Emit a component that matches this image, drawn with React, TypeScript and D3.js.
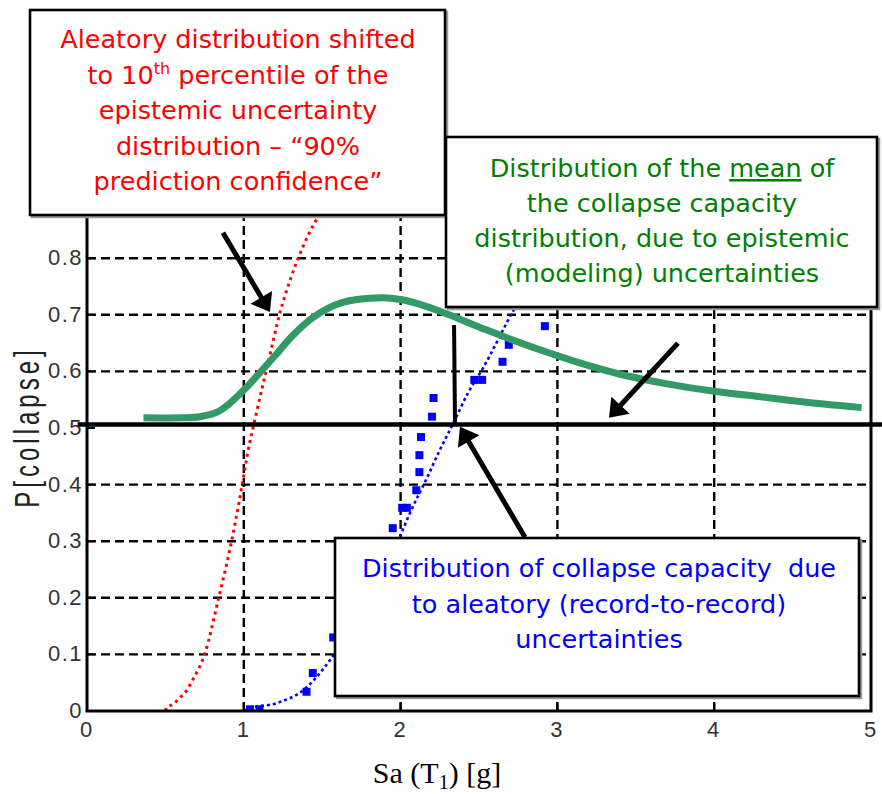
import React from 'react';
import * as d3 from 'd3';

// ---- axis ticks ----
const xTicks = [0, 1, 2, 3, 4, 5];
const xTickLabels = ['0', '1', '2', '3', '4', '5'];
const yTicks = [0, 0.1, 0.2, 0.3, 0.4, 0.5, 0.6, 0.7, 0.8];
const yTickLabels = ['0', '0.1', '0.2', '0.3', '0.4', '0.5', '0.6', '0.7', '0.8'];
const xGrid = [1, 2, 3, 4];
const yGrid = [0.1, 0.2, 0.3, 0.4, 0.6, 0.7, 0.8, 0.9];

// ---- green: distribution of the mean (epistemic) ----
const greenX = [0.36, 0.6, 0.72, 0.83, 0.9, 1.0, 1.1, 1.2, 1.3, 1.44, 1.62, 1.88, 2.0, 2.13, 2.3, 2.55, 2.87, 3.19, 3.4, 3.7, 4.0, 4.3, 4.6, 4.94];
const greenY = [0.518, 0.518, 0.52, 0.528, 0.541, 0.567, 0.597, 0.628, 0.66, 0.695, 0.721, 0.73, 0.727, 0.718, 0.701, 0.673, 0.64, 0.611, 0.595, 0.578, 0.565, 0.555, 0.545, 0.536];

// ---- red dotted: aleatory shifted to 10th percentile ----
const redX = [0.5, 0.51, 0.55, 0.59, 0.63, 0.67, 0.75, 0.84, 0.91, 0.99, 1.02, 1.085, 1.17, 1.23, 1.3, 1.36, 1.47, 1.55];
const redY = [0.0, 0.007, 0.012, 0.023, 0.034, 0.053, 0.1, 0.2, 0.284, 0.4, 0.449, 0.532, 0.633, 0.703, 0.765, 0.809, 0.871, 0.9];

// ---- blue dotted fitted aleatory CDF ----
const blueLineX = [1.0, 1.03, 1.21, 1.38, 1.55, 1.75, 2.0, 2.06, 2.17, 2.25, 2.33, 2.43, 2.53, 2.62, 2.71, 2.85];
const blueLineY = [0.0, 0.004, 0.014, 0.037, 0.09, 0.18, 0.311, 0.35, 0.413, 0.461, 0.505, 0.562, 0.608, 0.655, 0.703, 0.76];

// ---- blue squares: record-to-record collapse data ----
const blueSqX = [1.04, 1.1, 1.4, 1.44, 1.57, 1.95, 2.01, 2.04, 2.1, 2.12, 2.12, 2.13, 2.2, 2.21, 2.47, 2.52, 2.65, 2.69, 2.92, 3.04];
const blueSqY = [0.003, 0.003, 0.034, 0.067, 0.13, 0.323, 0.359, 0.359, 0.39, 0.422, 0.452, 0.484, 0.52, 0.553, 0.585, 0.585, 0.617, 0.647, 0.68, 0.717];

// ---- annotation arrows (data units) ----
const arrowStartX = [0.867, 3.769, 2.793];
const arrowStartY = [0.845, 0.65, 0.307];
const arrowTipX = [1.167, 3.329, 2.379];
const arrowTipY = [0.705, 0.518, 0.502];
const refLineY = 0.506;
const markerLineX = [2.341, 2.347];
const markerLineY = [0.682, 0.507];

const W = 882;
const H = 794;

function Arrow({ x1, y1, x2, y2 }: { x1: number; y1: number; x2: number; y2: number }) {
  const dx = x2 - x1;
  const dy = y2 - y1;
  const len = Math.sqrt(dx * dx + dy * dy);
  const ux = dx / len;
  const uy = dy / len;
  const L = 17;
  const hw = 12.5;
  const bx = x2 - ux * L;
  const by = y2 - uy * L;
  const pts = [
    [x2, y2],
    [bx - uy * hw, by + ux * hw],
    [bx + uy * hw, by - ux * hw],
  ];
  return (
    <g>
      <line x1={x1} y1={y1} x2={bx + ux * 3} y2={by + uy * 3} stroke="#000" strokeWidth={5} />
      <polygon points={pts.map((p) => p.join(',')).join(' ')} fill="#000" />
    </g>
  );
}

function Box({ x, y, w, h }: { x: number; y: number; w: number; h: number }) {
  return (
    <g>
      <rect x={x + 2} y={y + 2} width={w} height={h} fill="none" stroke="#9a9a9a" strokeWidth={2.5} />
      <rect x={x} y={y} width={w} height={h} fill="#fff" stroke="#000" strokeWidth={2.6} />
    </g>
  );
}

export default function App() {
  const x = d3.scaleLinear().domain([0, 5]).range([87, 871]);
  const y = d3.scaleLinear().domain([0, 1]).range([711, 145]);

  const line = d3
    .line<[number, number]>()
    .x((d) => x(d[0]))
    .y((d) => y(d[1]))
    .curve(d3.curveMonotoneX);
  const smooth = d3
    .line<[number, number]>()
    .x((d) => x(d[0]))
    .y((d) => y(d[1]))
    .curve(d3.curveCatmullRom.alpha(0.5));

  const greenPath = smooth(greenX.map((v, i) => [v, greenY[i]]) as [number, number][]) || '';
  const redPath = line(redX.map((v, i) => [v, redY[i]]) as [number, number][]) || '';
  const bluePath = line(blueLineX.map((v, i) => [v, blueLineY[i]]) as [number, number][]) || '';

  const boxFont = "'DejaVu Sans', Verdana, sans-serif";
  const tickFont = "'Liberation Sans', Arial, sans-serif";
  const sq = 8;

  return (
    <svg
      width={W}
      height={H}
      viewBox={`0 0 ${W} ${H}`}
      style={{ position: 'absolute', left: 0, top: 0, background: '#fff' }}
    >
      <defs>
        <clipPath id="plotClip">
          <rect x={x(0)} y={y(1)} width={x(5) - x(0)} height={y(0) - y(1)} />
        </clipPath>
      </defs>
      <rect x={0} y={0} width={W} height={H} fill="#fff" />

      {/* grid */}
      {xGrid.map((t) => (
        <line key={'gx' + t} x1={x(t)} x2={x(t)} y1={y(0)} y2={y(1)} stroke="#000" strokeWidth={2.4} strokeDasharray="9,5" />
      ))}
      {yGrid.map((t) => (
        <line key={'gy' + t} x1={x(0)} x2={x(5)} y1={y(t)} y2={y(t)} stroke="#000" strokeWidth={2.4} strokeDasharray="9,5" />
      ))}

      {/* curves */}
      <g clipPath="url(#plotClip)">
        <path d={redPath} fill="none" stroke="#ff0000" strokeWidth={3} strokeDasharray="3,4" />
        <path d={bluePath} fill="none" stroke="#0000ff" strokeWidth={2.6} strokeDasharray="3,3" />
        {blueSqX.map((v, i) => (
          <rect key={'sq' + i} x={x(v) - sq / 2} y={y(blueSqY[i]) - sq / 2} width={sq} height={sq} fill="#0000ff" />
        ))}
        <path d={greenPath} fill="none" stroke="#339966" strokeWidth={7} strokeLinecap="butt" />
      </g>

      {/* axes frame */}
      <rect x={x(0)} y={y(1)} width={x(5) - x(0)} height={y(0) - y(1)} fill="none" stroke="#000" strokeWidth={3} />
      {xTicks.map((t) => (
        <line key={'tx' + t} x1={x(t)} x2={x(t)} y1={y(0)} y2={y(0) - 8} stroke="#000" strokeWidth={2} />
      ))}
      {yTicks.map((t) => (
        <line key={'ty' + t} x1={x(0)} x2={x(0) + 8} y1={y(t)} y2={y(t)} stroke="#000" strokeWidth={2} />
      ))}

      {/* reference line at 0.5 and marker line */}
      <line x1={x(-0.06)} x2={x(5.07)} y1={y(refLineY)} y2={y(refLineY)} stroke="#000" strokeWidth={4.5} />
      <line x1={x(markerLineX[0])} x2={x(markerLineX[1])} y1={y(markerLineY[0])} y2={y(markerLineY[1])} stroke="#000" strokeWidth={4} />

      {/* arrows */}
      {arrowStartX.map((v, i) => (
        <Arrow key={'ar' + i} x1={x(v)} y1={y(arrowStartY[i])} x2={x(arrowTipX[i])} y2={y(arrowTipY[i])} />
      ))}

      {/* tick labels */}
      {yTicks.map((t, i) => (
        <text key={'yl' + t} x={83} y={y(t) + 7} textAnchor="end" fontFamily={tickFont} fontSize={22} letterSpacing={1.5} fill="#333">
          {yTickLabels[i]}
        </text>
      ))}
      {xTicks.map((t, i) => (
        <text key={'xl' + t} x={x(t) - 1} y={737} textAnchor="middle" fontFamily={tickFont} fontSize={22} fill="#333">
          {xTickLabels[i]}
        </text>
      ))}

      {/* axis labels */}
      <g transform="translate(39,427) rotate(-90) scale(1,1.45)">
        <text x={0} y={0} textAnchor="middle" fontFamily={tickFont} fontSize={24} letterSpacing={4} fill="#222">
          P[collapse]
        </text>
      </g>
      <text x={437} y={783} textAnchor="middle" fontFamily="'Liberation Serif', 'Times New Roman', serif" fontSize={30} fill="#000">
        Sa (T<tspan fontSize={20} dy={6}>1</tspan>
        <tspan dy={-6}>) [g]</tspan>
      </text>

      {/* red annotation box */}
      <Box x={30} y={10} w={415} h={205} />
      <g fontFamily={boxFont} fontSize={25.5} fill="#ff0000" textAnchor="middle">
        <text x={238} y={48}>Aleatory distribution shifted</text>
        <text x={238} y={83.5}>
          to 10<tspan fontSize={16} dy={-10}>th</tspan>
          <tspan dy={10}>{'\u00a0percentile of the'}</tspan>
        </text>
        <text x={238} y={119}>epistemic uncertainty</text>
        <text x={238} y={154.5}>distribution – “90%</text>
        <text x={238} y={190}>prediction confidence”</text>
      </g>

      {/* green annotation box */}
      <Box x={446} y={137} w={431} h={170} />
      <g fontFamily={boxFont} fontSize={25.5} fill="#008000" textAnchor="middle">
        <text x={662} y={177}>
          {'Distribution of the\u00a0'}
          <tspan textDecoration="underline" style={{ textDecoration: 'underline' }}>mean</tspan>
          {'\u00a0of'}
        </text>
        <text x={662} y={212}>the collapse capacity</text>
        <text x={662} y={247}>distribution, due to epistemic</text>
        <text x={662} y={282}>(modeling) uncertainties</text>
      </g>

      {/* blue annotation box */}
      <Box x={335} y={538} w={524} h={158} />
      <g fontFamily={boxFont} fontSize={25.5} fill="#0000ff" textAnchor="middle">
        <text x={599} y={577}>{'Distribution of collapse capacity\u00a0 due'}</text>
        <text x={599} y={613}>to aleatory (record-to-record)</text>
        <text x={599} y={648}>uncertainties</text>
      </g>
    </svg>
  );
}
